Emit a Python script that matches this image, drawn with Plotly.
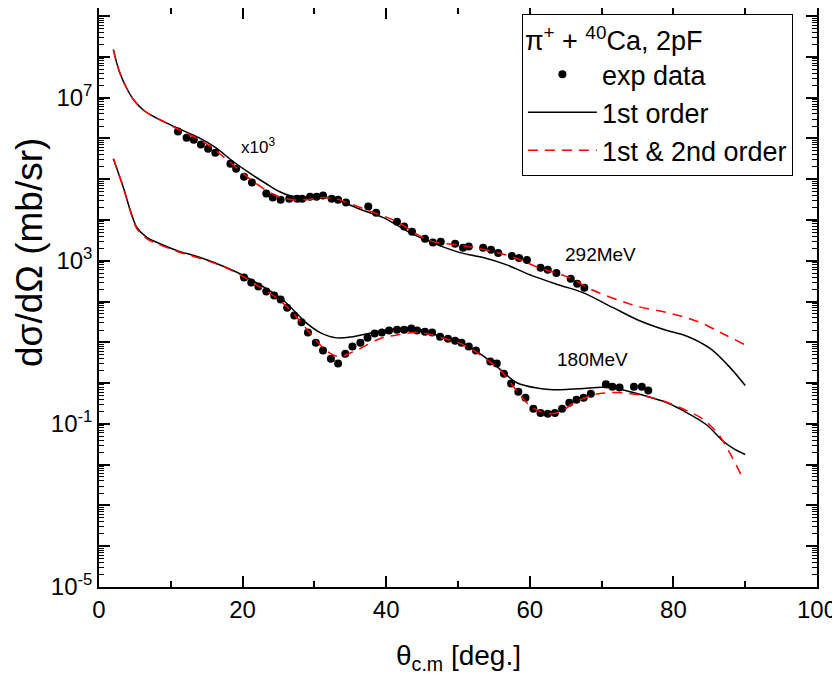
"""
pi+ + 40Ca elastic scattering, 2pF density: angular distributions at
292 MeV (scaled x10^3) and 180 MeV, data vs 1st and 1st & 2nd order.
Values are log10(dsigma/dOmega [mb/sr]) read off the original figure.
"""

import plotly.graph_objects as go

FONT = "Liberation Sans, Arial, sans-serif"

# ---- 292 MeV (x10^3) ----
exp292_theta = [11.0, 12.2, 13.2, 14.2, 15.2, 16.2, 18.3, 19.1, 20.2, 21.3,
                23.3, 24.2, 25.3, 26.5, 27.6, 28.3, 29.4, 30.3, 31.2, 32.4,
                33.3, 34.4, 37.5, 38.6, 41.5, 42.5, 43.6, 45.4, 46.5, 47.6,
                49.6, 50.7, 51.5, 53.5, 54.6, 55.6, 57.5, 58.5, 59.6, 61.5,
                62.5, 63.7, 65.7, 66.6, 67.6]
exp292_logy = [6.17, 6.02, 5.97, 5.85, 5.75, 5.65, 5.38, 5.26, 5.06, 4.92,
               4.65, 4.55, 4.50, 4.52, 4.52, 4.52, 4.57, 4.57, 4.60, 4.52,
               4.50, 4.43, 4.33, 4.18, 3.96, 3.84, 3.71, 3.54, 3.45, 3.47,
               3.42, 3.32, 3.35, 3.32, 3.27, 3.19, 3.12, 3.07, 3.02, 2.83,
               2.78, 2.70, 2.56, 2.44, 2.34]

first292_theta = [2.0, 2.8, 3.8, 4.9, 6.3, 7.9, 9.3, 11.1, 13.9, 16.3,
                  18.5, 20.9, 23.3, 25.1, 26.5, 28.0, 30.0, 32.0, 34.5, 37.0,
                  39.6, 43.3, 45.4, 47.5, 50.3, 53.5, 56.8, 60.4, 64.2, 67.4,
                  71.6, 75.3, 79.1, 81.9, 85.1, 87.9, 90.0]
first292_logy = [8.18, 7.66, 7.25, 6.93, 6.68, 6.51, 6.39, 6.24, 6.02, 5.77,
                 5.46, 5.16, 4.89, 4.70, 4.60, 4.57, 4.56, 4.55, 4.40, 4.22,
                 4.06, 3.69, 3.52, 3.37, 3.20, 3.08, 2.90, 2.63, 2.40, 2.22,
                 1.85, 1.53, 1.29, 1.15, 0.85, 0.38, -0.06]

second292_theta = [2.0, 2.8, 3.8, 4.9, 6.3, 7.9, 9.3, 11.1, 13.9, 16.3,
                   18.5, 21.9, 24.7, 26.9, 28.8, 31.0, 33.0, 35.0, 38.0, 41.5,
                   44.0, 46.5, 49.5, 52.0, 55.0, 58.0, 61.0, 64.0, 66.0, 68.4,
                   72.6, 75.3, 78.6, 81.3, 84.1, 86.9, 90.0]
second292_logy = [8.18, 7.66, 7.25, 6.93, 6.68, 6.51, 6.39, 6.22, 5.98, 5.70,
                  5.38, 4.89, 4.60, 4.50, 4.50, 4.55, 4.52, 4.40, 4.20, 3.96,
                  3.68, 3.47, 3.40, 3.33, 3.22, 3.07, 2.85, 2.68, 2.55, 2.31,
                  2.02, 1.87, 1.75, 1.63, 1.46, 1.21, 0.94]

# ---- 180 MeV ----
exp180_theta = [20.2, 21.2, 22.2, 23.3, 24.4, 25.3, 26.2, 27.2, 28.2, 29.1,
                30.2, 31.2, 32.3, 33.3, 34.3, 35.3, 36.4, 37.4, 38.4, 39.4,
                40.4, 41.5, 42.5, 43.5, 44.3, 45.4, 46.4, 47.5, 48.6, 49.6,
                50.5, 51.5, 52.5, 54.5, 55.4, 56.4, 57.4, 58.4, 59.4, 60.5,
                61.5, 62.5, 63.5, 64.5, 65.5, 66.5, 67.5, 68.5, 70.6, 71.5,
                72.5, 74.5, 75.6, 76.5]
exp180_logy = [2.59, 2.47, 2.37, 2.25, 2.15, 2.05, 1.85, 1.66, 1.49, 1.24,
               0.99, 0.80, 0.60, 0.48, 0.72, 0.90, 0.99, 1.11, 1.22, 1.24,
               1.29, 1.31, 1.31, 1.34, 1.29, 1.26, 1.24, 1.14, 1.09, 1.04,
               0.99, 0.90, 0.80, 0.53, 0.48, 0.23, -0.01, -0.21, -0.36, -0.63,
               -0.73, -0.75, -0.73, -0.63, -0.48, -0.41, -0.36, -0.26, -0.03, -0.09,
               -0.11, -0.09, -0.09, -0.18]

first180_theta = [2.0, 3.4, 4.5, 5.3, 6.7, 8.1, 10.9, 14.1, 17.8, 20.1,
                  25.2, 29.0, 30.8, 33.1, 35.4, 38.2, 41.0, 43.7, 45.4, 47.5,
                  50.5, 53.1, 55.8, 58.2, 61.4, 63.3, 65.5, 67.5, 70.2, 72.5,
                  74.4, 79.1, 81.3, 84.6, 86.9, 88.5, 90.0]
first180_logy = [5.50, 4.79, 4.16, 3.81, 3.57, 3.45, 3.25, 3.08, 2.83, 2.64,
                 2.10, 1.46, 1.24, 1.11, 1.14, 1.24, 1.32, 1.36, 1.28, 1.15,
                 0.98, 0.72, 0.35, 0.01, -0.13, -0.16, -0.15, -0.13, -0.10, -0.15,
                 -0.23, -0.48, -0.67, -1.02, -1.42, -1.62, -1.75]

second180_theta = [2.0, 3.4, 4.5, 5.3, 6.7, 8.1, 10.9, 14.1, 17.8, 20.2,
                   22.0, 24.0, 26.0, 28.0, 29.5, 31.0, 32.5, 33.6, 35.0, 36.4,
                   39.1, 41.9, 44.0, 46.0, 48.0, 50.0, 52.0, 54.0, 56.0, 58.0,
                   60.0, 61.5, 63.0, 64.5, 66.0, 68.4, 70.0, 72.1, 75.0, 78.1,
                   81.3, 84.0, 86.2, 87.9, 89.6]
second180_logy = [5.50, 4.79, 4.14, 3.78, 3.54, 3.42, 3.23, 3.06, 2.82, 2.60,
                  2.40, 2.18, 1.90, 1.52, 1.20, 0.90, 0.70, 0.65, 0.74, 0.85,
                  1.09, 1.19, 1.24, 1.20, 1.10, 1.00, 0.82, 0.58, 0.30, -0.15,
                  -0.55, -0.70, -0.75, -0.68, -0.50, -0.31, -0.25, -0.23, -0.28, -0.41,
                  -0.63, -0.87, -1.24, -1.73, -2.31]

# ---- axes ----
x_tick_vals = [0, 20, 40, 60, 80, 100]
x_minor_vals = [10, 30, 50, 70, 90]
y_tick_vals = [1e-5, 1e-4, 1e-3, 1e-2, 1e-1, 1e0, 1e1, 1e2, 1e3, 1e4,
               1e5, 1e6, 1e7, 1e8, 1e9]
y_tick_text = ["10<sup>-5</sup>", "", "", "", "10<sup>-1</sup>", "", "", "",
               "10<sup>3</sup>", "", "", "", "10<sup>7</sup>", "", ""]
y_minor_vals = [m * d for d in y_tick_vals for m in range(2, 10)]


def to_linear(logs):
    # stored as log10 values, plotted on a log axis
    return [10 ** v for v in logs]


fig = go.Figure()

for theta, logy, show in [(exp292_theta, exp292_logy, True),
                          (exp180_theta, exp180_logy, False)]:
    fig.add_trace(go.Scatter(
        x=theta, y=to_linear(logy), mode='markers', name='exp data',
        legendgroup='exp', showlegend=show,
        marker=dict(color='black', size=8)
    ))

for theta, logy, show in [(first292_theta, first292_logy, True),
                          (first180_theta, first180_logy, False)]:
    fig.add_trace(go.Scatter(
        x=theta, y=to_linear(logy), mode='lines', name='1st order',
        legendgroup='first', showlegend=show,
        line=dict(color='black', width=1.5, shape='spline')
    ))

for theta, logy, show in [(second292_theta, second292_logy, True),
                          (second180_theta, second180_logy, False)]:
    fig.add_trace(go.Scatter(
        x=theta, y=to_linear(logy), mode='lines', name='1st &amp; 2nd order',
        legendgroup='second', showlegend=show,
        line=dict(color='red', width=1.5, dash='10px,7px', shape='spline')
    ))

axis_common = dict(
    showline=True, linecolor='black', linewidth=1.5, mirror='ticks',
    ticks='inside', ticklen=11, tickwidth=1.5, tickcolor='black',
    showgrid=False, zeroline=False, automargin=False,
    tickfont=dict(family=FONT, size=24, color='black'),
)

# the page body adds an 8px offset, so the figure is 8px smaller
fig.update_layout(
    width=832, height=670,
    margin=dict(l=91, r=23, t=0, b=91),
    plot_bgcolor='white', paper_bgcolor='white',
    font=dict(family=FONT, color='black'),
    xaxis=dict(
        range=[0, 100], tickvals=x_tick_vals,
        minor=dict(tickvals=x_minor_vals, ticks='inside', ticklen=6,
                   tickwidth=1.5, tickcolor='black'),
        **axis_common
    ),
    yaxis=dict(
        type='log', range=[-5, 9.2],
        tickvals=y_tick_vals, ticktext=y_tick_text,
        minor=dict(tickvals=y_minor_vals, ticks='inside', ticklen=5,
                   tickwidth=1, tickcolor='black'),
        **axis_common
    ),
    legend=dict(
        x=0.589, y=0.9896, xanchor='left', yanchor='top',
        bgcolor='white', bordercolor='black', borderwidth=1,
        font=dict(family=FONT, size=27, color='black'),
        title=dict(text='π<sup>+</sup> + <sup>40</sup>Ca, 2pF',
                   font=dict(family=FONT, size=27)),
        itemwidth=69, tracegroupgap=0,
    ),
    annotations=[
        dict(text='dσ/dΩ (mb/sr)', textangle=-90, xref='paper', yref='paper',
             x=-0.096, y=0.577, xanchor='center', yanchor='middle',
             showarrow=False, font=dict(family=FONT, size=37)),
        dict(text='θ<sub>c.m</sub> [deg.]', xref='paper', yref='paper',
             x=0.5, y=-0.121, yanchor='middle', showarrow=False,
             font=dict(family=FONT, size=28)),
        dict(text='x10<sup>3</sup>', x=22.1, y=5.82, showarrow=False,
             font=dict(family=FONT, size=17)),
        dict(text='292MeV', x=69.8, y=3.16, showarrow=False,
             font=dict(family=FONT, size=19)),
        dict(text='180MeV', x=68.7, y=0.57, showarrow=False,
             font=dict(family=FONT, size=19)),
    ],
)

fig.write_html("out.html")
